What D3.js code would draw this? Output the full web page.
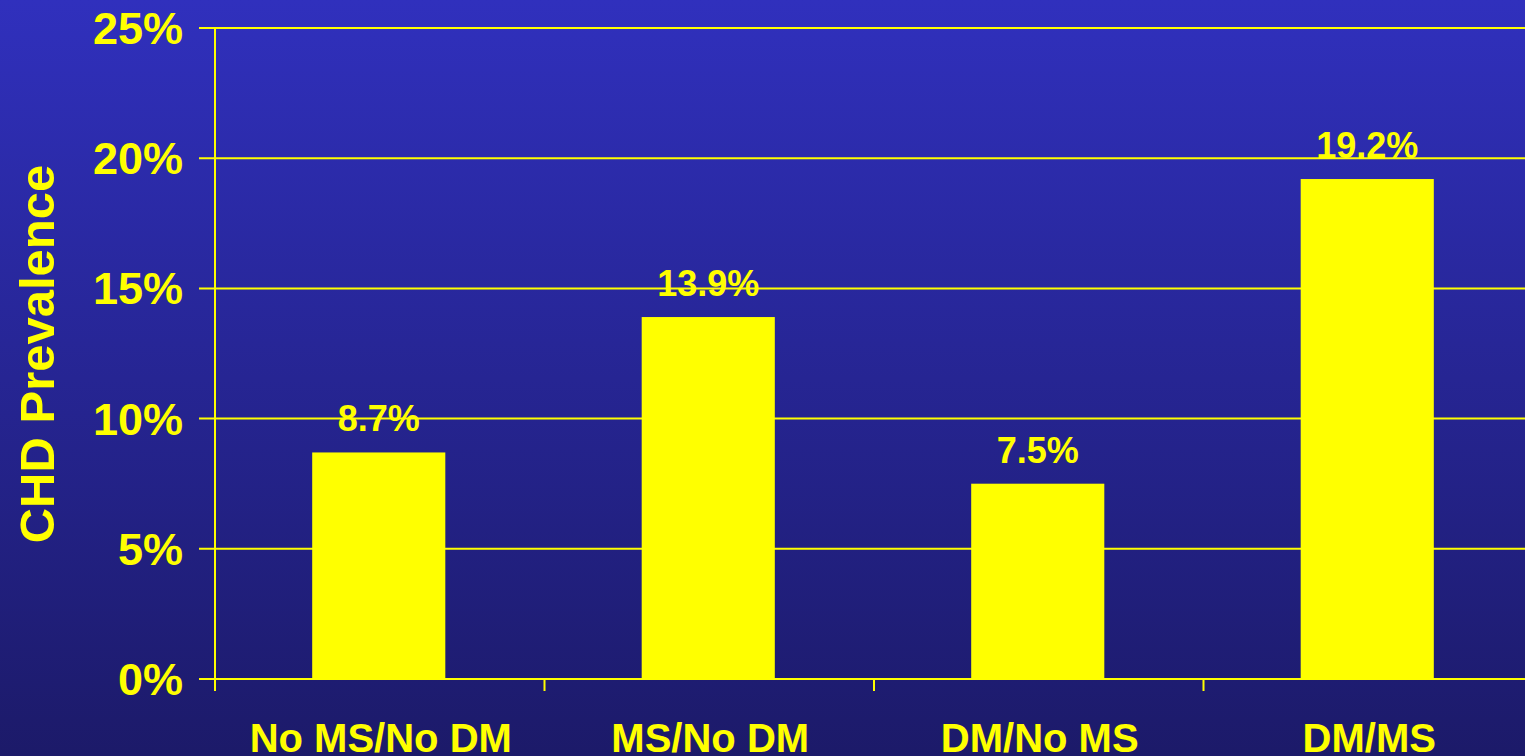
<!DOCTYPE html>
<html>
<head>
<meta charset="utf-8">
<script src="https://cdn.jsdelivr.net/npm/d3@7"></script>
<style>
  html, body { margin: 0; padding: 0; overflow: hidden; }
  svg { display: block; }
</style>
</head>
<body>
<svg id="chart" width="1525" height="756"></svg>
<script>
// CHD prevalence by metabolic syndrome (MS) / diabetes (DM) status
const categories = ["No MS/No DM", "MS/No DM", "DM/No MS", "DM/MS"];
const prevalence = [8.7, 13.9, 7.5, 19.2];
const yTicks = [0, 5, 10, 15, 20, 25];
const yTitle = "CHD Prevalence";

const W = 1525, H = 756;
const yellow = "#ffff00";
const font = "Arial, 'Liberation Sans', Helvetica, sans-serif";

const svg = d3.select("#chart");

// background gradient
const defs = svg.append("defs");
const grad = defs.append("linearGradient")
  .attr("id", "bg").attr("x1", 0).attr("y1", 0).attr("x2", 0).attr("y2", 1);
grad.append("stop").attr("offset", "0%").attr("stop-color", "#3030bd");
grad.append("stop").attr("offset", "100%").attr("stop-color", "#1c1a69");
svg.append("rect").attr("width", W).attr("height", H).attr("fill", "url(#bg)");

const plot = { left: 215, right: 1533, top: 28, bottom: 679 };

const x = d3.scaleBand()
  .domain(categories)
  .range([plot.left, plot.right])
  .padding(0);

const y = d3.scaleLinear()
  .domain([0, 25])
  .range([plot.bottom, plot.top]);

// horizontal gridlines with tick stubs to the left of the axis
const grid = svg.append("g");
grid.selectAll("line")
  .data(yTicks)
  .join("line")
  .attr("x1", plot.left - 16)
  .attr("x2", W + 10)
  .attr("y1", d => y(d))
  .attr("y2", d => y(d))
  .attr("stroke", yellow)
  .attr("stroke-width", 2);

// y tick labels
svg.append("g").selectAll("text")
  .data(yTicks)
  .join("text")
  .attr("x", 183)
  .attr("y", d => y(d) + 16)
  .attr("text-anchor", "end")
  .attr("font-family", font)
  .attr("font-weight", "bold")
  .attr("font-size", 45)
  .attr("fill", yellow)
  .text(d => d + "%");

// vertical axis line
svg.append("line")
  .attr("x1", plot.left).attr("x2", plot.left)
  .attr("y1", plot.top).attr("y2", plot.bottom + 12)
  .attr("stroke", yellow).attr("stroke-width", 2);

// x tick marks at category boundaries
const bounds = categories.map(c => x(c)).concat([plot.right]);
svg.append("g").selectAll("line")
  .data(bounds)
  .join("line")
  .attr("x1", d => d).attr("x2", d => d)
  .attr("y1", plot.bottom).attr("y2", plot.bottom + 12)
  .attr("stroke", yellow).attr("stroke-width", 2);

// bars
const barFrac = 0.404;
const bw = x.bandwidth() * barFrac;
const bx = c => x(c) + (x.bandwidth() - bw) / 2 - 1;

svg.append("g").selectAll("rect")
  .data(prevalence)
  .join("rect")
  .attr("x", (d, i) => bx(categories[i]))
  .attr("y", d => y(d))
  .attr("width", bw)
  .attr("height", d => y(0) - y(d))
  .attr("fill", yellow);

// value labels
svg.append("g").selectAll("text")
  .data(prevalence)
  .join("text")
  .attr("x", (d, i) => bx(categories[i]) + bw / 2)
  .attr("y", d => y(d) - 21)
  .attr("text-anchor", "middle")
  .attr("font-family", font)
  .attr("font-weight", "bold")
  .attr("font-size", 36)
  .attr("fill", yellow)
  .text(d => d.toFixed(1) + "%");

// category labels
svg.append("g").selectAll("text")
  .data(categories)
  .join("text")
  .attr("x", c => x(c) + x.bandwidth() / 2 + 1)
  .attr("y", 752)
  .attr("text-anchor", "middle")
  .attr("font-family", font)
  .attr("font-weight", "bold")
  .attr("font-size", 40)
  .attr("fill", yellow)
  .text(c => c);

// y axis title
svg.append("text")
  .attr("transform", "translate(54," + 354 + ") rotate(-90)")
  .attr("text-anchor", "middle")
  .attr("font-family", font)
  .attr("font-weight", "bold")
  .attr("font-size", 49)
  .attr("fill", yellow)
  .text(yTitle);
</script>
</body>
</html>
